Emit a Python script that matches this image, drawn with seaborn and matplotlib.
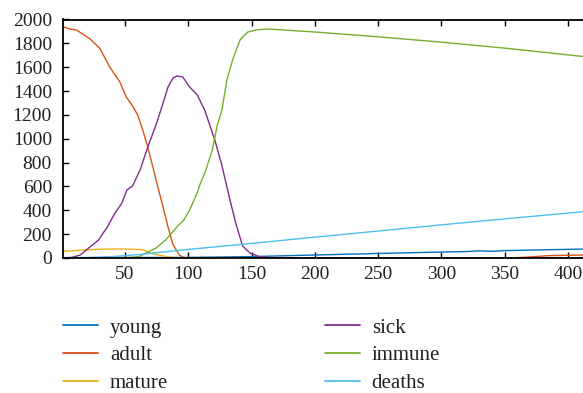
import matplotlib
matplotlib.use("Agg")
import matplotlib.pyplot as plt
import seaborn as sns
import pandas as pd

# ---- data ----
series_names = ["young", "adult", "mature", "sick", "immune", "deaths"]
colors = ["#0072BD", "#D95319", "#EDB120", "#7E2F8E", "#77AC30", "#4DBEEE"]

young_t = [1, 50, 100, 150, 200, 250, 300, 320, 330, 340, 350, 412]
young_v = [3, 4, 5, 12, 25, 38, 50, 54, 60, 56, 62, 75]

adult_t = [1, 5, 12, 22, 30, 38, 46, 51, 56, 60, 64, 68, 72, 76, 80, 84, 88, 93, 97,
           100, 150, 200, 250, 300, 350, 360, 372, 385, 412]
adult_v = [1940, 1925, 1910, 1840, 1760, 1600, 1475, 1350, 1275, 1200, 1075, 930, 765,
           595, 430, 260, 110, 25, 0, 0, 2, 2, 2, 2, 2, 3, 10, 20, 25]

mature_t = [1, 10, 16, 34, 50, 64, 71, 78, 84, 89.5, 100, 200, 412]
mature_v = [55, 62, 67, 75, 75, 70, 40, 22, 10, 2, 2, 2, 2]

sick_t = [1, 8, 14.6, 22, 29, 36, 42, 47.5, 51.5, 56, 62, 68, 75, 81.6, 84, 88, 91,
          95.5, 98.5, 101, 107, 113, 121, 126.5, 133, 138, 143, 149, 156, 165, 180,
          250, 412]
sick_v = [0, 5, 25, 90, 150, 260, 375, 460, 570, 605, 740, 930, 1130, 1350, 1435, 1510,
          1525, 1520, 1475, 1435, 1370, 1240, 990, 780, 485, 275, 100, 40, 12, 4, 1, 0, 0]

immune_t = [1, 40, 55, 62, 66, 74, 82, 87, 91, 96.6, 101, 107, 109, 114, 119, 123,
            126.6, 130.5, 135, 141, 147, 155, 164, 200, 250, 300, 350, 412]
immune_v = [0, 2, 5, 15, 40, 80, 150, 210, 260, 320, 400, 545, 610, 740, 905, 1115,
            1240, 1490, 1660, 1830, 1895, 1915, 1920, 1895, 1855, 1810, 1760, 1690]

deaths_t = [1, 20, 40, 60, 80, 101, 150, 200, 259, 300, 350, 412]
deaths_v = [0, 3, 12, 28, 50, 73, 122, 175, 235, 278, 328, 388]

x_ticks = [50, 100, 150, 200, 250, 300, 350, 400]
y_ticks = [0, 200, 400, 600, 800, 1000, 1200, 1400, 1600, 1800, 2000]

# ---- build long-form table ----
frames = []
for name, t, v in zip(series_names,
                      [young_t, adult_t, mature_t, sick_t, immune_t, deaths_t],
                      [young_v, adult_v, mature_v, sick_v, immune_v, deaths_v]):
    frames.append(pd.DataFrame({"t": t, "value": v, "series": name}))
df = pd.concat(frames, ignore_index=True)

sns.set_theme(style="white")
plt.rcParams["font.family"] = ["Liberation Serif", "DejaVu Serif"]

fig = plt.figure(figsize=(5.83, 3.93), dpi=100)
ax = fig.add_axes([63 / 583, (393 - 258) / 393, 1 - 63 / 583, (258 - 19.5) / 393])

sns.lineplot(data=df, x="t", y="value", hue="series", hue_order=series_names,
             palette=dict(zip(series_names, colors)), estimator=None, sort=True,
             linewidth=1.0, ax=ax, legend=True)

ax.set_xlim(1, 412)
ax.set_ylim(0, 2000)
ax.set_xticks(x_ticks)
ax.set_yticks(y_ticks)
ax.set_xlabel("")
ax.set_ylabel("")
ax.tick_params(axis="both", direction="in", length=4, width=1, colors="black",
               labelsize=14, labelcolor="#222222", top=True, bottom=True, left=True,
               right=False)
ax.tick_params(axis="x", pad=6)
ax.tick_params(axis="y", pad=8)
for s in ["left", "bottom", "top"]:
    ax.spines[s].set_visible(True)
    ax.spines[s].set_color("black")
    ax.spines[s].set_linewidth(1.3)
ax.spines["right"].set_visible(False)

handles, labels = ax.get_legend_handles_labels()
ax.legend_.remove()
for h in handles:
    h.set_linewidth(1.3)
leg = fig.legend(handles, labels, ncol=2, frameon=False, fontsize=15,
                 loc="upper left", bbox_to_anchor=(63 / 583, 1 - 318 / 393),
                 handlelength=1.68, handletextpad=0.58, labelspacing=0.4,
                 columnspacing=7.5, borderaxespad=0, borderpad=0)
for txt in leg.get_texts():
    txt.set_color("#222222")

fig.savefig("out.png", dpi=100)
